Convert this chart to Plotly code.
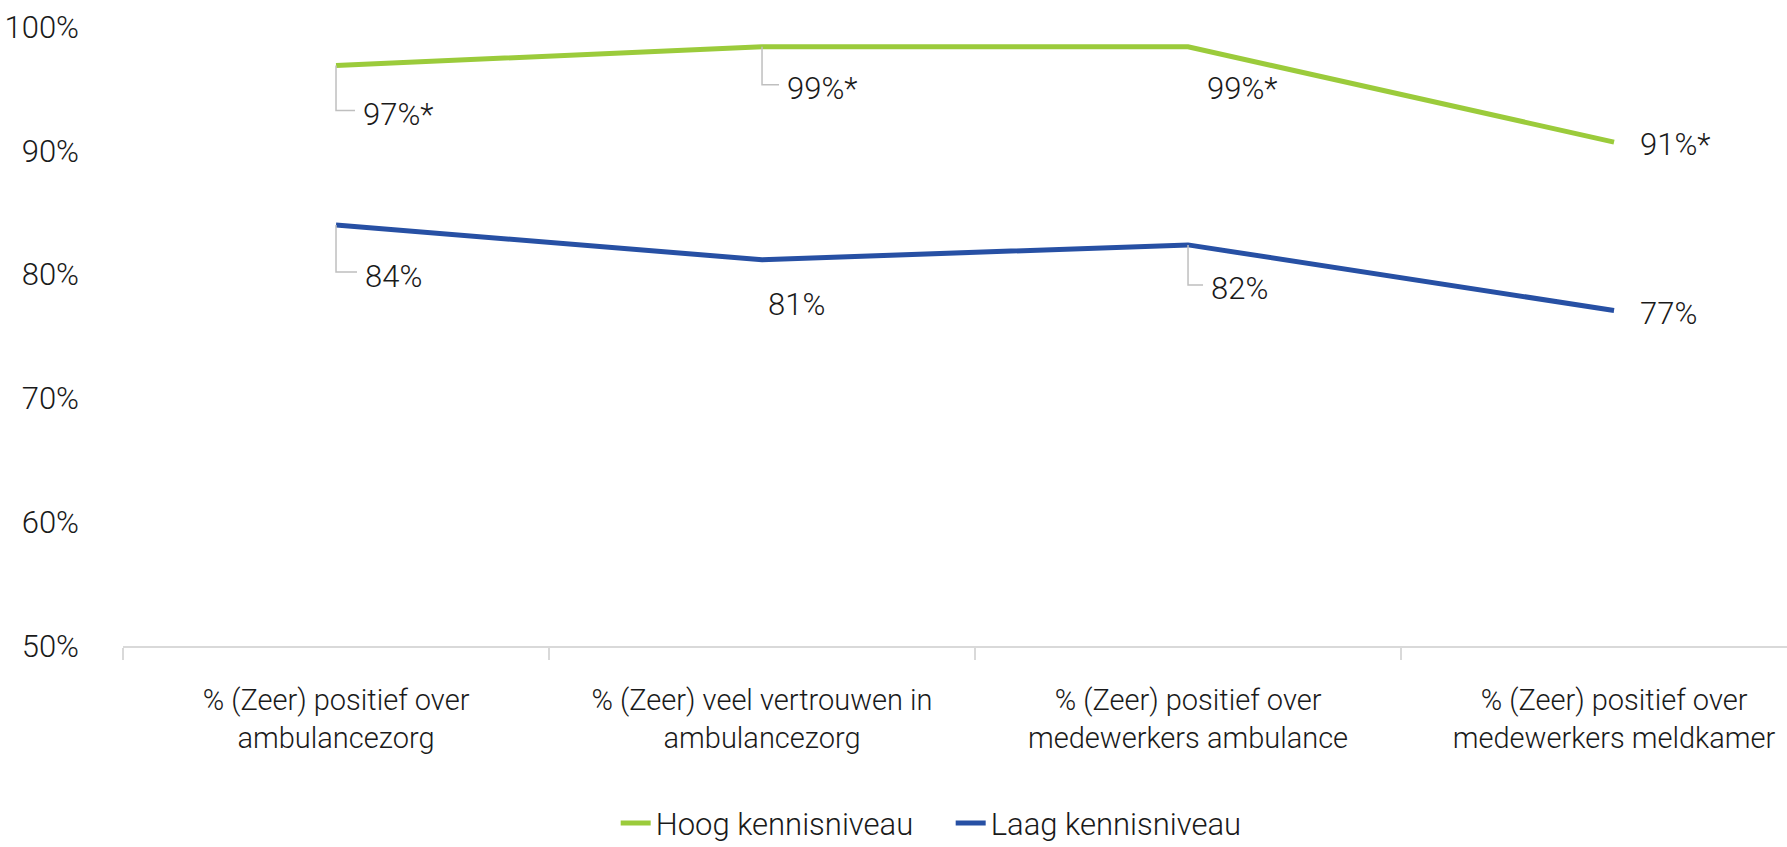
import plotly.graph_objects as go

# ----------------
# DATA
# ----------------
categories = [
    "% (Zeer) positief over<br>ambulancezorg",
    "% (Zeer) veel vertrouwen in<br>ambulancezorg",
    "% (Zeer) positief over<br>medewerkers ambulance",
    "% (Zeer) positief over<br>medewerkers meldkamer",
]
hoog = [96.9, 98.4, 98.4, 90.7]
laag = [84.0, 81.2, 82.4, 77.1]
hoog_labels = ["97%*", "99%*", "99%*", "91%*"]
laag_labels = ["84%", "81%", "82%", "77%"]
y_ticks = [50, 60, 70, 80, 90, 100]
y_ticktext = ["50%", "60%", "70%", "80%", "90%", "100%"]

# label placement (pixels from the point: right, down) and whether a leader line is drawn
hoog_offsets = [(25, 49), (23, 42), (17, 42), (24, 2)]
laag_offsets = [(27, 51), (4, 45), (21, 44), (24, 3)]
hoog_leader = [True, True, False, False]
laag_leader = [True, False, True, False]

GREEN = "#9BCB3B"
BLUE = "#2750A4"
TEXT = "#1a1a1a"
FONT = "Roboto, sans-serif"
FS = 31
WEIGHT = 300

fig = go.Figure()

fig.add_trace(go.Scatter(
    x=list(range(len(categories))), y=hoog, mode="lines",
    name="Hoog kennisniveau",
    line=dict(color=GREEN, width=5),
    hoverinfo="skip",
))
fig.add_trace(go.Scatter(
    x=list(range(len(categories))), y=laag, mode="lines",
    name="Laag kennisniveau",
    line=dict(color=BLUE, width=5),
    hoverinfo="skip",
))

# ----------------
# DATA LABELS + LEADER LINES
# ----------------
for values, labels, offsets, leaders in [
    (hoog, hoog_labels, hoog_offsets, hoog_leader),
    (laag, laag_labels, laag_offsets, laag_leader),
]:
    for i, (v, txt, (dx, dy), lead) in enumerate(zip(values, labels, offsets, leaders)):
        fig.add_annotation(
            x=i, y=v, xref="x", yref="y",
            text=txt, showarrow=False,
            xanchor="left", yanchor="middle",
            xshift=dx, yshift=-dy,
            font=dict(family=FONT, size=FS, color=TEXT, weight=WEIGHT),
        )
        if lead:
            fig.add_shape(
                type="path", xref="x", yref="y",
                xsizemode="pixel", ysizemode="pixel",
                xanchor=i, yanchor=v,
                path=f"M0,0 L0,{-(dy - 4)} L{dx - 6},{-(dy - 4)}",
                line=dict(color="#bfbfbf", width=1.5),
                layer="above",
            )

fig.update_layout(
    width=1787, height=847,
    margin=dict(l=123, r=0, t=27, b=201),
    paper_bgcolor="white", plot_bgcolor="white",
    font=dict(family=FONT, size=FS, color=TEXT, weight=WEIGHT),
    showlegend=True,
    legend=dict(
        orientation="h",
        xref="container", yref="container",
        x=0.532, y=0.028, xanchor="center", yanchor="middle",
        font=dict(family=FONT, size=FS, color=TEXT, weight=WEIGHT),
        itemwidth=30, tracegroupgap=0,
        entrywidth=290,
    ),
    xaxis=dict(
        type="category",
        tickmode="array",
        tickvals=list(range(len(categories))),
        ticktext=categories,
        tickfont=dict(size=29),
        range=[-0.5, 3.406],
        showline=True, linecolor="#d9d9d9", linewidth=2,
        ticks="outside", tickson="boundaries", ticklen=12,
        tickcolor="#d9d9d9", tickwidth=2,
        showgrid=False, zeroline=False,
        tickangle=0, automargin=False,
        ticklabelstandoff=27,
    ),
    yaxis=dict(
        range=[50, 100],
        tickmode="array",
        tickvals=y_ticks,
        ticktext=y_ticktext,
        showgrid=False, zeroline=False, showline=False,
        automargin=False,
        ticklabelstandoff=43,
    ),
)

# the page body has a default 8px margin; drop it so the figure fills the window exactly
fig.write_html(
    "out.html",
    config={"displayModeBar": False},
    post_script="document.body.style.margin='0';",
)
